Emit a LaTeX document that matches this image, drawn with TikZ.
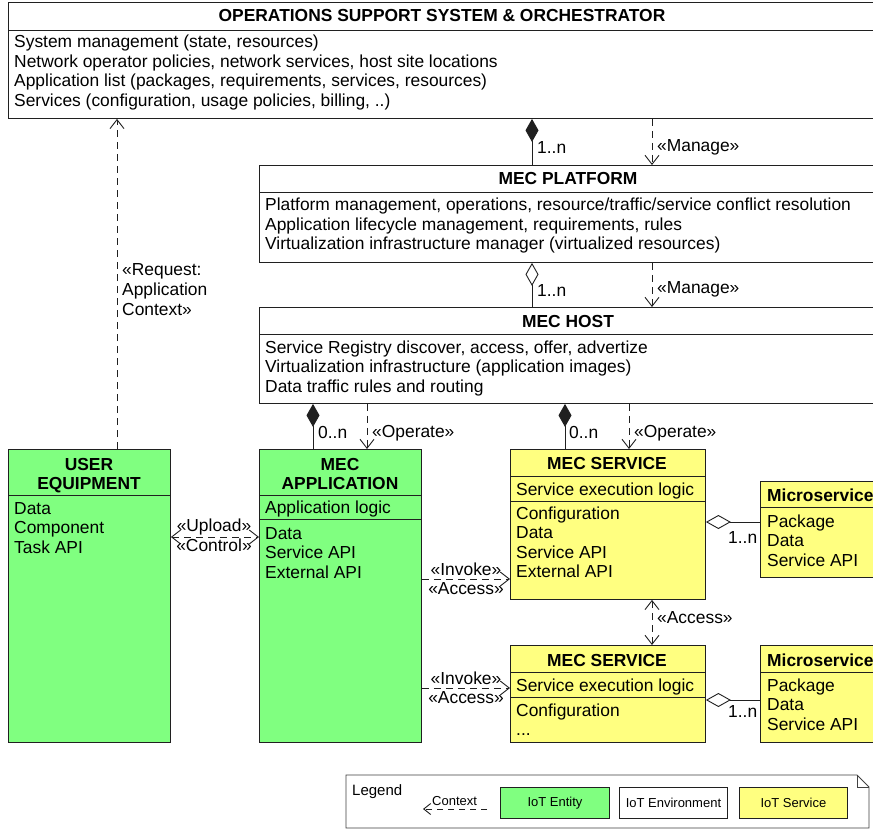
\documentclass[tikz,border=0pt]{standalone}
\usepackage{fontspec}
\setmainfont{Liberation Sans}
\usetikzlibrary{arrows.meta,calc}
\newcommand\mfont{\fontsize{17.4}{19.5}\selectfont}
\newcommand\lfont{\fontsize{13}{15}\selectfont}
\definecolor{entity}{HTML}{80FF80}
\definecolor{service}{HTML}{FFFF80}
\definecolor{ink}{HTML}{202020}

\tikzset{
  box/.style={draw=ink, line width=0.9pt, anchor=north west, inner sep=0pt},
  txt/.style={anchor=base west, inner sep=0pt, font=\mfont},
  ttl/.style={anchor=base, inner sep=0pt, font=\mfont\bfseries},
  lbl/.style={anchor=base west, inner sep=0pt, font=\mfont},
  clbl/.style={anchor=base, inner sep=0pt, font=\mfont},
  conn/.style={draw=ink, line width=0.9pt},
  barb/.tip={Straight Barb[length=9pt,width=14pt,line width=0.9pt]},
  dashes/.style={dash pattern=on 7pt off 5pt},
  dep/.style={conn, dashes, -barb},
  bidep/.style={conn, dashes, barb-barb},
  comp/.style={conn, {Diamond[length=23pt,width=13pt,fill=ink]}-},
  agg/.style={conn, {Diamond[open,length=23pt,width=13pt,fill=white]}-},
  haggr/.style={conn, {Diamond[open,length=25pt,width=14pt,fill=white]}-},
}

\begin{document}
\begin{tikzpicture}[x=1pt,y=-1pt]
\useasboundingbox (0,0) rectangle (873,829);
\fill[white] (0,0) rectangle (873,829);

% ---------- environment boxes ----------
\node[box, minimum width=870pt, minimum height=116pt] (oss) at (8,2) {};
\draw[conn] ($(oss.north west)+(0,28)$) -- ($(oss.north east)+(0,28)$);
\node[ttl] (oss-t) at (442,22) {OPERATIONS SUPPORT SYSTEM \& ORCHESTRATOR};
\foreach \t [count=\i from 0] in {{System management (state, resources)},
  {Network operator policies, network services, host site locations},
  {Application list (packages, requirements, services, resources)},
  {Services (configuration, usage policies, billing, ..)}}
  \node[txt] (oss-l\i) at (14,{48+19.5*\i}) {\t};

\node[box, minimum width=620pt, minimum height=97pt] (plat) at (259,165) {};
\draw[conn] ($(plat.north west)+(0,27)$) -- ($(plat.north east)+(0,27)$);
\node[ttl] (plat-t) at (568,185) {MEC PLATFORM};
\foreach \t [count=\i from 0] in {{Platform management, operations, resource/traffic/service conflict resolution},
  {Application lifecycle management, requirements, rules},
  {Virtualization infrastructure manager (virtualized resources)}}
  \node[txt] (plat-l\i) at (265,{211+19.5*\i}) {\t};

\node[box, minimum width=620pt, minimum height=96pt] (host) at (259,307) {};
\draw[conn] ($(host.north west)+(0,27)$) -- ($(host.north east)+(0,27)$);
\node[ttl] (host-t) at (568,327) {MEC HOST};
\foreach \t [count=\i from 0] in {{Service Registry discover, access, offer, advertize},
  {Virtualization infrastructure (application images)},
  {Data traffic rules and routing}}
  \node[txt] (host-l\i) at (265,{353+19.5*\i}) {\t};

% ---------- entities ----------
\node[box, fill=entity, minimum width=162pt, minimum height=293pt] (ue) at (8,449) {};
\draw[conn] ($(ue.north west)+(0,46)$) -- ($(ue.north east)+(0,46)$);
\node[ttl] (ue-t1) at (89,470) {USER};
\node[ttl] (ue-t2) at (89,489) {EQUIPMENT};
\foreach \t [count=\i from 0] in {Data, Component, Task API}
  \node[txt] (ue-l\i) at (14,{514+19.5*\i}) {\t};

\node[box, fill=entity, minimum width=162pt, minimum height=293pt] (app) at (259,449) {};
\draw[conn] ($(app.north west)+(0,46)$) -- ($(app.north east)+(0,46)$);
\draw[conn] ($(app.north west)+(0,70)$) -- ($(app.north east)+(0,70)$);
\node[ttl] (app-t1) at (340,470) {MEC};
\node[ttl] (app-t2) at (340,489) {APPLICATION};
\node[txt] (app-logic) at (265,513) {Application logic};
\foreach \t [count=\i from 0] in {Data, Service API, External API}
  \node[txt] (app-l\i) at (265,{539+19.5*\i}) {\t};

% ---------- services ----------
\node[box, fill=service, minimum width=195pt, minimum height=150pt] (svc1) at (510,449) {};
\draw[conn] ($(svc1.north west)+(0,27)$) -- ($(svc1.north east)+(0,27)$);
\draw[conn] ($(svc1.north west)+(0,52)$) -- ($(svc1.north east)+(0,52)$);
\node[ttl] (svc1-t) at (607,469) {MEC SERVICE};
\node[txt] (svc1-logic) at (516,495) {Service execution logic};
\foreach \t [count=\i from 0] in {Configuration, Data, Service API, External API}
  \node[txt] (svc1-l\i) at (516,{519+19.5*\i}) {\t};

\node[box, fill=service, minimum width=120pt, minimum height=96pt] (mic1) at (760,481) {};
\draw[conn] ($(mic1.north west)+(0,26)$) -- ($(mic1.north east)+(0,26)$);
\node[ttl, anchor=base west] (mic1-t) at (767,501) {Microservice};
\foreach \t [count=\i from 0] in {Package, Data, Service API}
  \node[txt] (mic1-l\i) at (767,{527+19.5*\i}) {\t};

\node[box, fill=service, minimum width=195pt, minimum height=97pt] (svc2) at (510,645) {};
\draw[conn] ($(svc2.north west)+(0,27)$) -- ($(svc2.north east)+(0,27)$);
\draw[conn] ($(svc2.north west)+(0,52)$) -- ($(svc2.north east)+(0,52)$);
\node[ttl] (svc2-t) at (607,666) {MEC SERVICE};
\node[txt] (svc2-logic) at (516,691) {Service execution logic};
\node[txt] (svc2-l0) at (516,716) {Configuration};
\node[txt] (svc2-l1) at (516,735) {...};

\node[box, fill=service, minimum width=120pt, minimum height=97pt] (mic2) at (760,645) {};
\draw[conn] ($(mic2.north west)+(0,27)$) -- ($(mic2.north east)+(0,27)$);
\node[ttl, anchor=base west] (mic2-t) at (767,666) {Microservice};
\foreach \t [count=\i from 0] in {Package, Data, Service API}
  \node[txt] (mic2-l\i) at (767,{691+19.5*\i}) {\t};

% ---------- connector columns and rows ----------
\coordinate (xa) at (117,0);
\coordinate (xb) at (532,0);
\coordinate (xc) at (652,0);
\coordinate (xd) at (313,0);
\coordinate (xe) at (367,0);
\coordinate (xf) at (565,0);
\coordinate (xg) at (629,0);
\coordinate (ya) at (0,537);
\coordinate (yb) at (0,579);
\coordinate (yc) at (0,688);
\coordinate (yd) at (0,522);
\coordinate (ye) at (0,700);

% ---------- connectors ----------
\draw[dep] (ue.north -| xa) -- (oss.south -| xa);
\node[lbl] (req1) at (122,276) {«Request:};
\node[lbl] (req2) at (122,295.5) {Application};
\node[lbl] (req3) at (122,315) {Context»};

\draw[comp] (oss.south -| xb) -- (plat.north -| xb);
\node[lbl] (m1) at (537,154) {1..n};
\draw[dep] (oss.south -| xc) -- (plat.north -| xc);
\node[lbl] (mg1) at (657,152) {«Manage»};

\draw[agg] (plat.south -| xb) -- (host.north -| xb);
\node[lbl] (m2) at (537,296) {1..n};
\draw[dep] (plat.south -| xc) -- (host.north -| xc);
\node[lbl] (mg2) at (657,294) {«Manage»};

\draw[comp] (host.south -| xd) -- (app.north -| xd);
\node[lbl] (m3) at (318,438) {0..n};
\draw[dep] (host.south -| xe) -- (app.north -| xe);
\node[lbl] (op1) at (372,437) {«Operate»};

\draw[comp] (host.south -| xf) -- (svc1.north -| xf);
\node[lbl] (m4) at (569,438) {0..n};
\draw[dep] (host.south -| xg) -- (svc1.north -| xg);
\node[lbl] (op2) at (634,437) {«Operate»};

\draw[bidep] (ue.east |- ya) -- (app.west |- ya);
\node[clbl] (up) at (214,531) {«Upload»};
\node[clbl] (ctl) at (214,551) {«Control»};

\draw[dep] (app.east |- yb) -- (svc1.west |- yb);
\node[clbl] (inv1) at (466,575) {«Invoke»};
\node[clbl] (acc1) at (466,594) {«Access»};

\draw[dep] (app.east |- yc) -- (svc2.west |- yc);
\node[clbl] (inv2) at (466,684) {«Invoke»};
\node[clbl] (acc2) at (466,703) {«Access»};

\draw[bidep] (svc1.south -| xc) -- (svc2.north -| xc);
\node[lbl] (acc3) at (657,623) {«Access»};

\draw[haggr] (svc1.east |- yd) -- (mic1.west |- yd);
\node[lbl] (m5) at (728,543) {1..n};
\draw[haggr] (svc2.east |- ye) -- (mic2.west |- ye);
\node[lbl] (m6) at (728,717) {1..n};

% ---------- legend ----------
\draw[conn, draw=ink!85] (346,775) -- (857,775) -- (869,787) -- (869,828) -- (346,828) -- cycle;
\draw[conn, draw=ink!85] (857,775) -- (857,787) -- (869,787);
\node[anchor=base west, inner sep=0pt, font=\fontsize{15}{17}\selectfont] (leg) at (352,795.5) {Legend};
\coordinate (ctx-a) at (487,809);
\coordinate (ctx-b) at (423,809);
\draw[conn, dash pattern=on 6pt off 5pt, -{Straight Barb[length=7pt,width=11pt,line width=0.9pt]}] (ctx-a) -- (ctx-b);
\node[anchor=base west, inner sep=0pt, font=\lfont] (ctx) at (432,805) {Context};
\node[box, fill=entity, minimum width=109pt, minimum height=31pt, font=\lfont] (lg-ent) at (500,787) {IoT Entity};
\node[box, fill=white, minimum width=108pt, minimum height=31pt, font=\lfont] (lg-env) at (619,787) {IoT Environment};
\node[box, fill=service, minimum width=108pt, minimum height=31pt, font=\lfont] (lg-srv) at (739,787) {IoT Service};
\end{tikzpicture}
\end{document}
